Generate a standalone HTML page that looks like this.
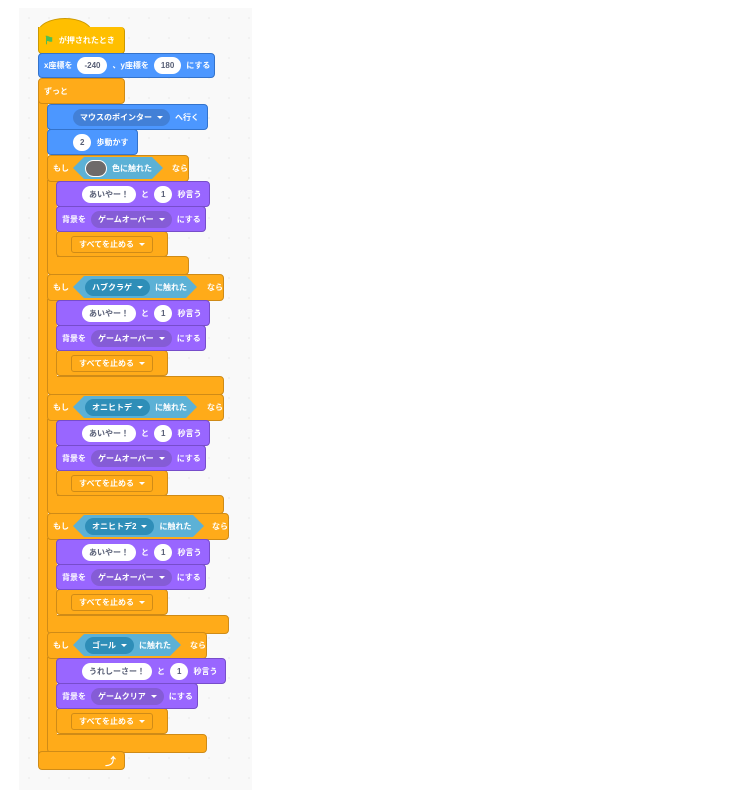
<!DOCTYPE html>
<html><head><meta charset="utf-8"><style>
*{margin:0;padding:0;box-sizing:border-box}
body{width:752px;height:796px;background:#fff;position:relative;overflow:hidden;font-family:"Liberation Sans","Noto Sans CJK JP",sans-serif;font-size:8px;font-weight:bold;color:#fff}
.panel{position:absolute;left:19px;top:8px;width:233px;height:782px;background:#f9f9f9;background-image:radial-gradient(#dcdcdc 0.6px,transparent 0.8px);background-size:20px 20px}
.b{position:absolute;border-radius:4px;display:flex;align-items:center;gap:5px;padding-left:5px;white-space:nowrap}
.ctl{background:#FFAB19;border:1px solid #CF8B17}
.mot{background:#4C97FF;border:1px solid #3373CC}
.lk{background:#9966FF;border:1px solid #774DCB}
.pill{background:#fff;color:#575E75;height:17px;border-radius:9px;padding:0 7px;display:flex;align-items:center}
.dd{height:17px;border-radius:9px;padding:0 7px;display:flex;align-items:center;gap:5px;white-space:nowrap}
.dd:after{content:"";border-left:3px solid transparent;border-right:3px solid transparent;border-top:3.5px solid #fff;margin-top:1px}
.hex{position:absolute;height:22px;background:#5CB1D6;clip-path:polygon(11px 0,calc(100% - 11px) 0,100% 50%,calc(100% - 11px) 100%,11px 100%,0 50%);display:flex;align-items:center;gap:5px;padding-left:12px;white-space:nowrap}
.stop{position:absolute;background:#FFAB19;border:1px solid #CF8B17;border-radius:4px;display:flex;align-items:center;justify-content:center}
.stop .dd{background:#FFAB19;border:1px solid #CF8B17;height:17px;border-radius:3px}
</style></head><body>
<div class="panel"></div>

<div class="b ctl" style="left:38px;top:78px;width:87px;height:26px;z-index:1">ずっと</div>
<div style="position:absolute;left:38px;top:100px;width:10px;height:660px;background:#FFAB19;border-left:1px solid #CF8B17"></div>
<div class="b ctl" style="left:38px;top:751px;width:87px;height:19px;justify-content:flex-end;padding-right:8px;font-size:11px;z-index:1">⤴</div>

<div style="position:absolute;left:38px;top:18px;width:54px;height:22px;background:#FFBF00;border-radius:27px 27px 0 0/14px 14px 0 0;border:1px solid #CC9900"></div>
<div class="b" style="left:38px;top:27px;width:87px;height:27px;background:#FFBF00;border:1px solid #CC9900;border-top:none;border-radius:0 4px 4px 4px"><span style="color:#4CBF56;font-size:11px">⚑</span>が押されたとき</div>

<div class="b mot" style="left:38px;top:53px;width:177px;height:25px;z-index:2">x座標を<span class="pill">-240</span>、y座標を<span class="pill">180</span>にする</div>

<div class="b mot" style="left:47px;top:104px;width:161px;height:26px;padding-left:25px;z-index:2"><span class="dd" style="background:#4280D7">マウスのポインター</span>へ行く</div>
<div class="b mot" style="left:47px;top:129px;width:91px;height:26px;padding-left:25px;z-index:2"><span class="pill">2</span>歩動かす</div>

<!-- if1 -->
<div class="b ctl" style="left:47px;top:155px;width:142px;height:27px;z-index:2">もし<span style="width:104px"></span>なら</div>
<div class="hex" style="left:73px;top:157px;width:90px;z-index:3"><span style="width:22px;height:17px;border-radius:9px;background:#6e6a6a;border:1px solid #fff"></span>色に触れた</div>
<div style="position:absolute;left:47px;top:180px;width:10px;height:80px;background:#FFAB19;border-left:1px solid #CF8B17;z-index:1"></div>
<div class="b lk" style="left:56px;top:181px;width:154px;height:26px;padding-left:25px;z-index:2"><span class="pill">あいやー！</span>と<span class="pill">1</span>秒言う</div>
<div class="b lk" style="left:56px;top:206px;width:150px;height:26px;z-index:2">背景を<span class="dd" style="background:#855CD6">ゲームオーバー</span>にする</div>
<div class="stop" style="left:56px;top:231px;width:112px;height:26px;z-index:1"><span class="dd">すべてを止める</span></div>
<div class="b ctl" style="left:47px;top:256px;width:142px;height:19px;z-index:0"></div>

<!-- if2 -->
<div class="b ctl" style="left:47px;top:274px;width:177px;height:27px;z-index:2">もし<span style="width:139px"></span>なら</div>
<div class="hex" style="left:73px;top:276px;width:124px;z-index:3"><span class="dd" style="background:#2E8EB8">ハブクラゲ</span>に触れた</div>
<div style="position:absolute;left:47px;top:299px;width:10px;height:80px;background:#FFAB19;border-left:1px solid #CF8B17;z-index:1"></div>
<div class="b lk" style="left:56px;top:300px;width:154px;height:26px;padding-left:25px;z-index:2"><span class="pill">あいやー！</span>と<span class="pill">1</span>秒言う</div>
<div class="b lk" style="left:56px;top:325px;width:150px;height:26px;z-index:2">背景を<span class="dd" style="background:#855CD6">ゲームオーバー</span>にする</div>
<div class="stop" style="left:56px;top:350px;width:112px;height:26px;z-index:1"><span class="dd">すべてを止める</span></div>
<div class="b ctl" style="left:47px;top:376px;width:177px;height:19px;z-index:0"></div>

<!-- if3 -->
<div class="b ctl" style="left:47px;top:394px;width:177px;height:27px;z-index:2">もし<span style="width:139px"></span>なら</div>
<div class="hex" style="left:73px;top:396px;width:124px;z-index:3"><span class="dd" style="background:#2E8EB8">オニヒトデ</span>に触れた</div>
<div style="position:absolute;left:47px;top:419px;width:10px;height:80px;background:#FFAB19;border-left:1px solid #CF8B17;z-index:1"></div>
<div class="b lk" style="left:56px;top:420px;width:154px;height:26px;padding-left:25px;z-index:2"><span class="pill">あいやー！</span>と<span class="pill">1</span>秒言う</div>
<div class="b lk" style="left:56px;top:445px;width:150px;height:26px;z-index:2">背景を<span class="dd" style="background:#855CD6">ゲームオーバー</span>にする</div>
<div class="stop" style="left:56px;top:470px;width:112px;height:26px;z-index:1"><span class="dd">すべてを止める</span></div>
<div class="b ctl" style="left:47px;top:495px;width:177px;height:19px;z-index:0"></div>

<!-- if4 -->
<div class="b ctl" style="left:47px;top:513px;width:182px;height:27px;z-index:2">もし<span style="width:146px"></span>なら</div>
<div class="hex" style="left:73px;top:515px;width:131px;z-index:3"><span class="dd" style="background:#2E8EB8">オニヒトデ2</span>に触れた</div>
<div style="position:absolute;left:47px;top:538px;width:10px;height:80px;background:#FFAB19;border-left:1px solid #CF8B17;z-index:1"></div>
<div class="b lk" style="left:56px;top:539px;width:154px;height:26px;padding-left:25px;z-index:2"><span class="pill">あいやー！</span>と<span class="pill">1</span>秒言う</div>
<div class="b lk" style="left:56px;top:564px;width:150px;height:26px;z-index:2">背景を<span class="dd" style="background:#855CD6">ゲームオーバー</span>にする</div>
<div class="stop" style="left:56px;top:589px;width:112px;height:26px;z-index:1"><span class="dd">すべてを止める</span></div>
<div class="b ctl" style="left:47px;top:615px;width:182px;height:19px;z-index:0"></div>

<!-- if5 -->
<div class="b ctl" style="left:47px;top:632px;width:160px;height:27px;z-index:2">もし<span style="width:123px"></span>なら</div>
<div class="hex" style="left:73px;top:634px;width:108px;z-index:3"><span class="dd" style="background:#2E8EB8">ゴール</span>に触れた</div>
<div style="position:absolute;left:47px;top:657px;width:10px;height:82px;background:#FFAB19;border-left:1px solid #CF8B17;z-index:1"></div>
<div class="b lk" style="left:56px;top:658px;width:170px;height:26px;padding-left:25px;z-index:2"><span class="pill">うれしーさー！</span>と<span class="pill">1</span>秒言う</div>
<div class="b lk" style="left:56px;top:683px;width:142px;height:26px;z-index:2">背景を<span class="dd" style="background:#855CD6">ゲームクリア</span>にする</div>
<div class="stop" style="left:56px;top:708px;width:112px;height:26px;z-index:1"><span class="dd">すべてを止める</span></div>
<div class="b ctl" style="left:47px;top:734px;width:160px;height:19px;z-index:0"></div>
</body></html>
